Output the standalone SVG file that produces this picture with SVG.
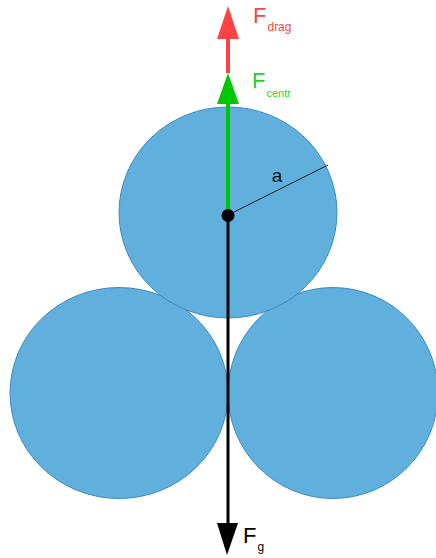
<svg xmlns="http://www.w3.org/2000/svg" width="436" height="558" viewBox="0 0 436 558">
<style>
.ball{fill:#60afdc;stroke:#3b8cc2;stroke-width:1}
.lbl{font-family:"Liberation Sans",Arial,sans-serif}
</style>
<rect width="436" height="558" fill="#ffffff"/>
<g id="ball-left"><ellipse class="ball" cx="119" cy="393" rx="109" ry="105.5"/></g>
<g id="ball-right"><ellipse class="ball" cx="333" cy="393" rx="105" ry="105.5"/></g>
<g id="ball-top"><ellipse class="ball" cx="228" cy="212.5" rx="109" ry="105.5"/></g>
<g id="connectors">
  <line x1="228" y1="215" x2="328" y2="165" stroke="#222" stroke-width="1"/>
  <line x1="228" y1="73" x2="228" y2="36" stroke="#ff4343" stroke-width="4"/>
  <polygon points="228,6 217,39 239,39" fill="#ff4343"/>
  <line x1="228" y1="215" x2="228" y2="101" stroke="#00c800" stroke-width="4"/>
  <polygon points="228,73 217,104 239,104" fill="#00c800"/>
  <line x1="228" y1="215" x2="228" y2="525" stroke="#000" stroke-width="3"/>
  <polygon points="227,555 217,523 238,523" fill="#000"/>
  <circle cx="228" cy="215.5" r="6.5" fill="#000"/>
</g>
<g id="label-a"><text class="lbl" x="277" y="182" font-size="19" text-anchor="middle" fill="#111">a</text></g>
<g id="label-drag"><text class="lbl" x="253" y="23" font-size="22" fill="#f04a4a">F<tspan font-size="12" dy="8" dx="1">drag</tspan></text></g>
<g id="label-centr"><text class="lbl" x="252" y="88" font-size="22" fill="#1ed31e">F<tspan font-size="11" dy="9" dx="1">centr</tspan></text></g>
<g id="label-g"><text class="lbl" x="243" y="543" font-size="22" fill="#000">F<tspan font-size="12" dy="8" dx="1">g</tspan></text></g>
</svg>
